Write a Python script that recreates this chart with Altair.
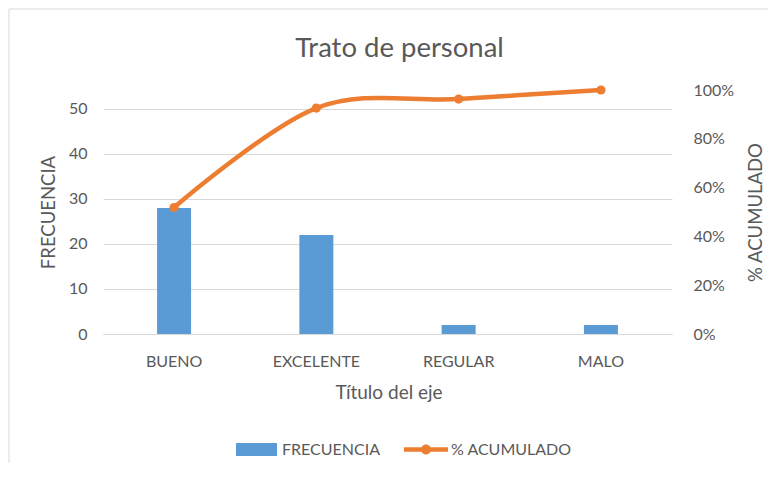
import altair as alt
import pandas as pd

categorias = ["BUENO", "EXCELENTE", "REGULAR", "MALO"]
frecuencia = [28, 22, 2, 2]
acumulado = [0.5185, 0.9259, 0.9630, 1.0]

df = pd.DataFrame({"categoria": categorias, "frecuencia": frecuencia, "acumulado": acumulado})

FONT = "Lato"
GRAY = "#595959"
GRID = "#D9D9D9"
BLUE = "#5B9BD5"
ORANGE = "#ED7D31"

W, H = 569, 244

x_enc = alt.X(
    "categoria:N", sort=categorias,
    scale=alt.Scale(paddingInner=0.761, paddingOuter=0.38),
    axis=alt.Axis(
        title="Título del eje", labelAngle=0, labelFont=FONT, labelFontSize=16,
        labelColor=GRAY, labelPadding=32, labelBaseline="alphabetic",
        ticks=False, tickSize=0, domainColor=GRID, domainWidth=1,
        titleFont=FONT, titleFontSize=19, titleFontWeight="normal", titleColor=GRAY,
        titleX=W / 2 + 1, titleY=64, titleBaseline="alphabetic",
    ),
)

y_left = alt.Y(
    "frecuencia:Q",
    scale=alt.Scale(domain=[0, 54.2], nice=False),
    axis=alt.Axis(
        values=[0, 10, 20, 30, 40, 50], title="FRECUENCIA", grid=True, gridColor=GRID,
        gridWidth=1, domain=False, ticks=False, tickSize=0, labelPadding=16,
        labelFont=FONT, labelFontSize=16, labelColor=GRAY,
        titleFont=FONT, titleFontSize=18.5, titleFontWeight="normal", titleColor=GRAY,
        titleX=-55, titleY=H / 2, titleAngle=270, titleBaseline="middle",
    ),
)

y_right = alt.Y(
    "acumulado:Q",
    scale=alt.Scale(domain=[0, 1], nice=False),
    axis=alt.Axis(
        orient="right", format=".0%", values=[0, 0.2, 0.4, 0.6, 0.8, 1.0],
        grid=False, domain=False, ticks=False, tickSize=0, labelPadding=21,
        labelFont=FONT, labelFontSize=16, labelColor=GRAY,
        title="% ACUMULADO", titleFont=FONT, titleFontSize=18.5, titleFontWeight="normal",
        titleColor=GRAY, titleX=83, titleY=H / 2, titleAngle=270, titleBaseline="middle",
    ),
)

legend_common = dict(
    title=None, orient="none", labelFont=FONT, labelFontSize=16, labelColor=GRAY,
    padding=0, symbolStrokeWidth=0,
)

border = alt.Chart(pd.DataFrame({"a": [0]})).mark_rect(
    fillOpacity=0, stroke=GRID, strokeWidth=1
).encode(
    x=alt.value(-94), x2=alt.value(720), y=alt.value(-81), y2=alt.value(420)
)

bars = alt.Chart(df).transform_calculate(serie="'FRECUENCIA'").mark_bar().encode(
    x=x_enc,
    y=y_left,
    fill=alt.Fill(
        "serie:N",
        scale=alt.Scale(domain=["FRECUENCIA"], range=[BLUE]),
        legend=alt.Legend(
            legendX=133, legendY=339, symbolType="M-1,-0.317H1V0.317H-1Z",
            symbolSize=1681, labelOffset=5, **legend_common,
        ),
    ),
)

line = alt.Chart(df).mark_line(
    color=ORANGE, strokeWidth=4.5, interpolate="cardinal", strokeCap="round"
).encode(x=x_enc, y=y_right)

points = alt.Chart(df).transform_calculate(serie="'% ACUMULADO'").mark_circle(
    size=85, opacity=1
).encode(
    x=x_enc,
    y=y_right,
    color=alt.Color(
        "serie:N",
        scale=alt.Scale(domain=["% ACUMULADO"], range=[ORANGE]),
        legend=alt.Legend(
            legendX=301, legendY=337.5,
            symbolType="M-1,-0.1H1V0.1H-1Z M0.227,0A0.227,0.227,0,1,1,-0.227,0A0.227,0.227,0,1,1,0.227,0Z",
            symbolSize=1936, labelOffset=3, **legend_common,
        ),
    ),
)

chart = alt.layer(
    border, bars, alt.layer(line, points)
).resolve_scale(
    y="independent", fill="independent", color="independent"
).properties(
    width=W, height=H,
    title=alt.TitleParams(
        "Trato de personal", font=FONT, fontSize=27.5, fontWeight="normal", color=GRAY,
        anchor="middle", dx=12, offset=-76, baseline="alphabetic",
    ),
    autosize=alt.AutoSizeParams(type="none"),
    padding={"left": 95, "top": 82, "right": 96, "bottom": 129},
).configure_view(stroke=None)

chart.save("out.html", embed_options={"renderer": "svg", "actions": False})
